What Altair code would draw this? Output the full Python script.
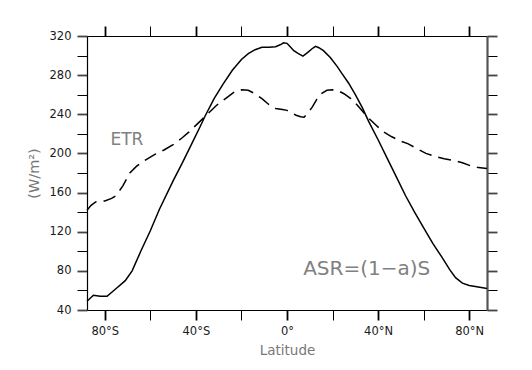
import altair as alt
import pandas as pd

# ASR = (1-a)S  (solid)
asr_lat = [-87.8, -85, -82, -79, -75, -71, -68, -64, -60, -56, -50, -46, -42, -38, -36, -32,
           -28, -24, -20, -17, -14, -11, -8, -5, -3, -1.5, 0, 1, 3, 5, 7, 9, 11, 12.5, 14, 16,
           19, 22, 24, 27, 30, 33, 36, 40, 44, 48, 52, 56, 60, 64, 68, 71.5, 74, 77, 80, 84, 87.8]
asr_val = [49, 55, 54, 54, 62, 70, 80, 101, 121, 143, 172, 190, 209, 228, 238, 256,
           271, 285, 296, 302, 306, 308.5, 308.5, 309, 311, 313, 312.5, 310, 305, 302, 299.5, 303, 307, 309.5, 308, 305,
           298, 289, 282, 272, 260, 247, 232, 214, 195, 176, 157, 140, 124, 108, 94, 81, 73, 67.5, 65, 63.5, 62]

# ETR (dashed)
etr_lat = [-87.8, -86, -84, -80, -77, -75, -72, -69, -66, -62, -58, -54, -50, -46, -43, -39,
           -35, -31, -27, -23, -20, -17, -14, -11, -8, -5, -2, 0, 2, 4, 6, 7.5, 9, 11, 13, 15,
           17.5, 20, 22.5, 25, 28, 31, 35, 39, 42, 46, 50, 53, 57, 61, 65, 69, 73, 77, 81, 84, 87.8]
etr_val = [142, 147, 150.5, 151.5, 154, 157, 167, 180, 187, 193.5, 199, 203.5, 209, 216, 222, 231,
           240, 249, 256, 263, 265, 264.5, 261, 256, 250, 246, 245, 244, 241.5, 239, 237.5, 237, 241, 247, 255, 261,
           264.5, 265, 264, 261, 256, 249, 238, 229, 222.5, 217, 212.5, 210, 205, 200, 197, 194.5, 193, 190.5, 187, 185.5, 184.5]

label_text = ["ETR", "ASR=(1\u2212a)S"]
label_lat = [-77.5, 7.1]
label_val = [214, 82]
label_size = [17, 20]

x_ticks = [-80, -60, -40, -20, 0, 20, 40, 60, 80]
y_ticks = [40, 60, 80, 100, 120, 140, 160, 180, 200, 220, 240, 260, 280, 300, 320]

asr = pd.DataFrame({"lat": asr_lat, "val": asr_val})
etr = pd.DataFrame({"lat": etr_lat, "val": etr_val})
labels = pd.DataFrame({"lat": label_lat, "val": label_val, "text": label_text, "size": label_size})

xscale = alt.Scale(domain=[-87.8, 87.8], nice=False, zero=False)
yscale = alt.Scale(domain=[40, 320], nice=False, zero=False)

FONT = "DejaVu Sans"
major_w = {"condition": {"test": "datum.value % 40 === 0", "value": 1.8}, "value": 1}
major_c = {"condition": {"test": "datum.value % 40 === 0", "value": "#444444"}, "value": "#000000"}

x_label_expr = ("datum.value % 40 !== 0 ? '' : (datum.value == 0 ? '0°' : "
                "(datum.value < 0 ? (-datum.value) + '°S' : datum.value + '°N'))")

x_bottom = alt.Axis(values=x_ticks, labelExpr=x_label_expr, tickSize=10, tickColor="#000",
                    tickWidth=major_w, domainColor="#000", domainWidth=1.2,
                    labelFont=FONT, labelFontSize=11.5, labelColor="#1a1a1a", labelPadding=5,
                    grid=False, title="Latitude", titleFont=FONT, titleFontSize=13.5,
                    titleFontWeight="normal", titleColor="#777", titleX=200, titleY=40,
                    titleAlign="center", titleBaseline="middle")
y_left = alt.Axis(values=y_ticks, labelExpr="datum.value % 40 === 0 ? datum.label : ''",
                  tickSize=10, tickColor=major_c, tickWidth=major_w, domainColor="#000",
                  domainWidth=1.2, labelFont=FONT, labelFontSize=11.5, labelColor="#1a1a1a",
                  labelPadding=6, grid=False, title="(W/m²)", titleFont=FONT, titleFontSize=14.5,
                  titleFontWeight="normal", titleColor="#777", titleX=-53, titleY=137,
                  titleAngle=-90, titleAlign="center", titleBaseline="middle")
x_top = alt.Axis(orient="top", values=x_ticks, labels=False, tickSize=10, tickColor="#000",
                 tickWidth=major_w, domainColor="#000", domainWidth=1.2, grid=False, title=None)
y_right = alt.Axis(orient="right", values=y_ticks, labels=False, tickSize=10,
                   tickColor=major_c, tickWidth=major_w, domainColor="#555",
                   domainWidth=2.2, grid=False, title=None)

asr_line = alt.Chart(asr).mark_line(color="black", strokeWidth=1.5).encode(
    x=alt.X("lat:Q", scale=xscale, axis=x_bottom),
    y=alt.Y("val:Q", scale=yscale, axis=y_left),
)
etr_line = alt.Chart(etr).mark_line(color="black", strokeWidth=1.5, strokeDash=[13, 7]).encode(
    x=alt.X("lat:Q", scale=xscale, axis=x_top),
    y=alt.Y("val:Q", scale=yscale, axis=y_right),
)
txt = alt.Chart(labels).mark_text(align="left", baseline="middle", font=FONT, color="#808080").encode(
    x=alt.X("lat:Q", scale=xscale, axis=None),
    y=alt.Y("val:Q", scale=yscale, axis=None),
    text="text:N",
    size=alt.Size("size:Q", scale=None, legend=None),
)

chart = alt.layer(asr_line, etr_line, txt).resolve_axis(
    x="independent", y="independent"
).properties(
    width=400, height=274,
    autosize=alt.AutoSizeParams(type="none"),
    padding={"left": 79, "top": 28, "right": 37, "bottom": 52},
).configure_view(stroke=None).configure(background="white")

chart.save("out.html", embed_options={"renderer": "svg", "actions": False})
